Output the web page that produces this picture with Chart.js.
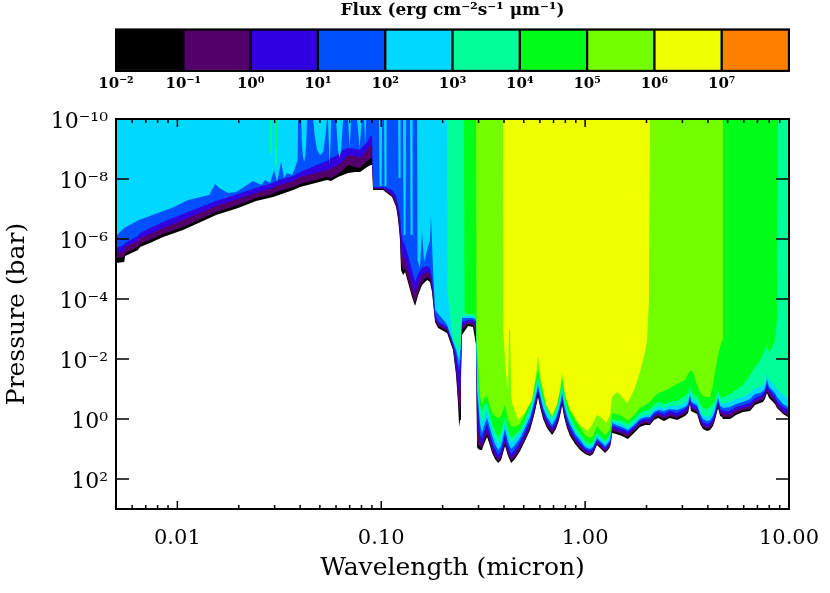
<!DOCTYPE html>
<html>
<head>
<meta charset="utf-8">
<title>Flux contours</title>
<script src="https://cdn.jsdelivr.net/npm/chart.js@4"></script>
<style>
  body { margin: 0; background: #fff; }
  canvas { position: absolute; left: 0; top: 0; }
</style>
</head>
<body>
<canvas id="main" width="830" height="593"></canvas>
<canvas id="bar" width="830" height="100"></canvas>
<script>
// Colour bar
const fluxEdges = [1e-2, 1e-1, 1e0, 1e1, 1e2, 1e3, 1e4, 1e5, 1e6, 1e7, 1e8];
const fluxColors = ["#000000", "#54006b", "#3000e0", "#0050ff", "#00d8ff", "#00ff98", "#00ff18", "#73ff00", "#f0ff00", "#ff8000"];
const fluxTicks = ["10⁻²", "10⁻¹", "10⁰", "10¹", "10²", "10³", "10⁴", "10⁵", "10⁶", "10⁷"];

// Axis ticks
const waveMajor = [0.01, 0.1, 1, 10];
const waveLabels = ["0.01", "0.10", "1.00", "10.00"];
const waveMinor = [0.006, 0.007, 0.008, 0.009, 0.02, 0.03, 0.04, 0.05, 0.06, 0.07, 0.08, 0.09, 0.2, 0.3, 0.4, 0.5, 0.6, 0.7, 0.8, 0.9, 2, 3, 4, 5, 6, 7, 8, 9];
const pressMajor = [1e-10, 1e-8, 1e-6, 1e-4, 1e-2, 1e0, 1e2];
const pressLabels = ["10⁻¹⁰", "10⁻⁸", "10⁻⁶", "10⁻⁴", "10⁻²", "10⁰", "10²"];

// Contour levels: log10 wavelength (micron) and log10 pressure (bar)
const headWave = [-2.301, -2.261, -2.256, -2.193, -2.183, -2.134, -2.070, -1.972, -1.810, -1.702, -1.614, -1.530, -1.516, -1.432, -1.398, -1.266, -1.246, -1.212, -1.187, -1.163, -1.128, -1.104, -1.069, -1.050, -1.045, -1.040, -0.991, -0.947, -0.927, -0.917, -0.908, -0.903, -0.893, -0.883, -0.868, -0.849, -0.834, -0.819, -0.800, -0.775, -0.761, -0.751, -0.736, -0.721, -0.677, -0.648, -0.633, -0.623, -0.618, -0.613, -0.609, -0.604, -0.574, -0.550, -0.535];
const tailWave = [-0.530, -0.525, -0.515, -0.506, -0.496, -0.481, -0.471, -0.456, -0.442, -0.427, -0.412, -0.393, -0.378, -0.363, -0.344, -0.319, -0.295, -0.270, -0.251, -0.241, -0.231, -0.221, -0.206, -0.187, -0.162, -0.143, -0.128, -0.118, -0.113, -0.103, -0.089, -0.074, -0.049, -0.025, 0, 0.024, 0.039, 0.058, 0.078, 0.098, 0.112, 0.122, 0.127, 0.132, 0.152, 0.181, 0.210, 0.240, 0.269, 0.294, 0.318, 0.338, 0.358, 0.387, 0.416, 0.451, 0.490, 0.505, 0.515, 0.519, 0.529, 0.549, 0.564, 0.578, 0.598, 0.613, 0.627, 0.637, 0.652, 0.662, 0.672, 0.676, 0.711, 0.740, 0.774, 0.809, 0.833, 0.858, 0.872, 0.882, 0.892, 0.902, 0.917, 0.931, 0.941, 0.946, 0.971, 0.995, 1];

const blackHead = [-5.20, -5.23, -5.43, -5.63, -5.73, -5.87, -6.07, -6.30, -6.80, -7.03, -7.27, -7.40, -7.43, -7.63, -7.73, -7.97, -7.93, -8.07, -8.13, -8.20, -8.23, -8.23, -8.40, -8.47, -8.47, -7.63, -7.63, -7.40, -7.07, -6.63, -5.97, -4.97, -4.80, -4.90, -4.53, -4.07, -3.77, -4.13, -4.47, -4.63, -4.57, -4.23, -3.23, -3.03, -2.87, -2.30, -1.47, -0.47, 0.27, 0.03, -1.30, -2.80, -3.10, -3.07, -2.47];
const blackTail = [0.93, 1.00, 1.03, 1.03, 0.83, 0.60, 0.80, 1.13, 1.33, 1.47, 1.37, 0.90, 1.23, 1.47, 1.33, 1.07, 0.73, 0.37, -0.10, -0.40, -0.73, -0.40, 0, 0.30, 0.53, 0.33, 0.03, -0.27, -0.47, -0.07, 0.30, 0.57, 0.83, 1.03, 1.17, 1.23, 1.17, 0.87, 1.00, 1.13, 1.03, 0.93, 0.77, 0.47, 0.50, 0.57, 0.67, 0.47, 0.27, 0.20, 0.20, 0.03, -0.03, 0.07, -0.03, 0.03, -0.10, -0.20, -0.53, -0.27, -0.23, -0.17, 0.17, 0.33, 0.40, 0.37, 0.23, 0.03, -0.37, -0.10, -0.07, 0, 0, -0.13, -0.23, -0.27, -0.47, -0.53, -0.57, -0.67, -0.87, -0.70, -0.60, -0.50, -0.37, -0.33, -0.17, -0.07, -0.03];

const purpleHead = [-5.37, -5.40, -5.53, -5.73, -5.83, -5.97, -6.17, -6.40, -6.90, -7.13, -7.37, -7.50, -7.57, -7.73, -7.83, -8.07, -8.03, -8.17, -8.30, -8.47, -8.40, -8.37, -8.60, -8.70, -8.67, -7.67, -7.67, -7.43, -7.13, -6.73, -6.13, -5.23, -4.97, -5.00, -4.63, -4.17, -3.87, -4.23, -4.57, -4.73, -4.67, -4.33, -3.30, -3.10, -2.93, -2.37, -1.57, -0.70, -0.13, -0.47, -1.63, -2.97, -3.17, -3.13, -2.80];
const purpleTail = [0.70, 0.87, 0.93, 0.97, 0.73, 0.50, 0.70, 1.07, 1.27, 1.40, 1.30, 0.83, 1.17, 1.40, 1.27, 1.00, 0.67, 0.30, -0.17, -0.47, -0.83, -0.47, -0.07, 0.23, 0.47, 0.27, -0.03, -0.33, -0.57, -0.13, 0.23, 0.50, 0.77, 0.97, 1.13, 1.20, 1.13, 0.83, 0.97, 1.10, 1.00, 0.90, 0.73, 0.40, 0.43, 0.50, 0.60, 0.40, 0.20, 0.13, 0.17, -0.03, -0.10, 0, -0.10, -0.03, -0.17, -0.27, -0.60, -0.33, -0.30, -0.23, 0.10, 0.27, 0.33, 0.30, 0.17, -0.03, -0.43, -0.17, -0.13, -0.07, -0.07, -0.20, -0.30, -0.33, -0.53, -0.60, -0.63, -0.73, -0.93, -0.80, -0.67, -0.57, -0.40, -0.37, -0.20, -0.10, -0.07];

const indigoHead = [-5.53, -5.60, -5.73, -5.93, -6.03, -6.17, -6.37, -6.63, -7.10, -7.33, -7.53, -7.70, -7.77, -7.93, -8.07, -8.30, -8.37, -8.47, -8.60, -8.80, -8.77, -8.70, -8.97, -9.13, -9.07, -7.70, -7.70, -7.50, -7.27, -6.90, -6.47, -5.70, -5.37, -5.37, -4.97, -4.50, -4.17, -4.50, -4.80, -4.90, -4.83, -4.50, -3.40, -3.17, -3.00, -2.43, -1.80, -1.13, -0.80, -1.13, -2.13, -3.10, -3.23, -3.20, -3.03];
const indigoTail = [0.03, 0.37, 0.77, 0.83, 0.60, 0.33, 0.57, 0.93, 1.17, 1.33, 1.20, 0.70, 1.07, 1.30, 1.17, 0.90, 0.57, 0.20, -0.27, -0.57, -0.93, -0.57, -0.17, 0.13, 0.40, 0.17, -0.13, -0.43, -0.63, -0.23, 0.13, 0.40, 0.70, 0.90, 1.07, 1.13, 1.07, 0.77, 0.90, 1.03, 0.93, 0.83, 0.67, 0.30, 0.37, 0.43, 0.50, 0.33, 0.13, 0.07, 0.10, -0.10, -0.17, -0.07, -0.17, -0.10, -0.23, -0.33, -0.67, -0.40, -0.37, -0.30, 0.03, 0.20, 0.27, 0.23, 0.10, -0.10, -0.50, -0.23, -0.20, -0.17, -0.17, -0.30, -0.37, -0.43, -0.60, -0.67, -0.73, -0.83, -1.03, -0.90, -0.77, -0.67, -0.50, -0.47, -0.27, -0.17, -0.13];

const blueHead = [-5.70, -5.80, -5.87, -6.10, -6.20, -6.37, -6.57, -6.83, -7.27, -7.50, -7.70, -7.87, -7.93, -8.10, -8.23, -8.60, -8.70, -8.80, -8.97, -9.03, -9.00, -8.97, -9.23, -9.47, -9.40, -7.73, -7.73, -7.63, -7.43, -7.10, -6.80, -6.23, -5.90, -5.80, -5.43, -4.97, -4.57, -4.83, -5.03, -5.10, -5.03, -4.70, -3.50, -3.23, -3.07, -2.50, -2.13, -1.70, -1.57, -1.97, -2.63, -3.23, -3.30, -3.30, -3.20];
const blueTail = [-0.63, -0.30, 0.53, 0.67, 0.43, 0.17, 0.40, 0.77, 1.00, 1.20, 1.07, 0.53, 0.93, 1.17, 1.03, 0.77, 0.43, 0.07, -0.40, -0.70, -1.03, -0.67, -0.27, 0.03, 0.30, 0.07, -0.23, -0.53, -0.73, -0.33, 0.03, 0.30, 0.60, 0.80, 1.00, 1.07, 1.00, 0.70, 0.83, 0.97, 0.87, 0.77, 0.60, 0.23, 0.27, 0.33, 0.43, 0.27, 0.07, 0, 0, -0.17, -0.23, -0.17, -0.27, -0.20, -0.33, -0.43, -0.77, -0.53, -0.47, -0.40, -0.07, 0.10, 0.17, 0.13, 0, -0.20, -0.60, -0.33, -0.30, -0.27, -0.27, -0.40, -0.47, -0.53, -0.70, -0.77, -0.83, -0.93, -1.17, -1.00, -0.87, -0.77, -0.60, -0.57, -0.40, -0.30, -0.27];

const cyanHeadWave = [-2.301, -2.261, -2.188, -2.016, -1.947, -1.844, -1.815, -1.795, -1.751, -1.712, -1.673, -1.629, -1.589, -1.570, -1.545, -1.526, -1.511, -1.491, -1.477, -1.462, -1.437, -1.423, -1.410, -1.408, -1.393, -1.390, -1.385, -1.378, -1.372, -1.367, -1.364, -1.334, -1.327, -1.315, -1.300, -1.285, -1.273, -1.266, -1.261, -1.258, -1.253, -1.248, -1.246, -1.222, -1.217, -1.212, -1.204, -1.197, -1.192, -1.187, -1.163, -1.160, -1.155, -1.150, -1.148, -1.119, -1.114, -1.106, -1.099, -1.094, -1.084, -1.079, -1.074, -1.011, -1.008, -0.998, -0.996, -0.986, -0.984, -0.976, -0.974, -0.917, -0.915, -0.908, -0.905, -0.893, -0.890, -0.881, -0.878, -0.859, -0.856, -0.849, -0.846, -0.824, -0.822, -0.810, -0.800, -0.790, -0.775, -0.761, -0.756, -0.746, -0.736, -0.687, -0.677, -0.648, -0.633, -0.623, -0.618, -0.613, -0.609, -0.604, -0.574, -0.550, -0.535];
const cyanHead = [-6.10, -6.37, -6.63, -7.07, -7.30, -7.47, -7.83, -7.70, -7.53, -7.57, -7.73, -7.93, -7.80, -7.97, -7.87, -8.30, -7.90, -8.57, -8.03, -8.20, -8.13, -8.37, -8.63, -10, -10, -9.30, -8.80, -8.57, -8.80, -9.30, -10, -10, -9.47, -8.97, -8.80, -8.90, -9.47, -10, -10, -9.30, -8.47, -9.30, -10, -10, -9.47, -8.97, -8.70, -8.97, -9.47, -10, -10, -9.63, -9.03, -9.63, -10, -10, -9.63, -9.03, -9.63, -10, -10, -9.13, -10, -10, -7.77, -7.77, -10, -10, -7.77, -7.77, -10, -10, -8.03, -8.03, -10, -10, -6.13, -6.13, -10, -10, -6.13, -6.13, -10, -10, -5.30, -5.03, -6.23, -5.23, -5.63, -5.97, -6.80, -4.97, -3.63, -3.23, -3.13, -2.57, -2.30, -2.03, -1.77, -2.30, -2.63, -3.37, -3.37, -3.37, -3.30];
const cyanTail = [-0.97, -0.63, 0.20, 0.47, 0.23, -0.03, 0.20, 0.57, 0.83, 1.03, 0.90, 0.33, 0.77, 1.00, 0.87, 0.63, 0.30, -0.07, -0.53, -0.80, -1.13, -0.80, -0.37, -0.07, 0.20, -0.03, -0.33, -0.63, -0.87, -0.47, -0.10, 0.17, 0.50, 0.70, 0.93, 1.00, 0.93, 0.63, 0.77, 0.90, 0.80, 0.70, 0.50, 0.13, 0.20, 0.27, 0.37, 0.20, 0, -0.07, -0.07, -0.23, -0.30, -0.27, -0.33, -0.30, -0.40, -0.50, -0.83, -0.60, -0.53, -0.47, -0.17, 0, 0.07, 0.03, -0.10, -0.30, -0.70, -0.43, -0.40, -0.37, -0.40, -0.50, -0.57, -0.67, -0.83, -0.87, -0.93, -1.00, -1.33, -1.07, -0.97, -0.87, -0.73, -0.70, -0.50, -0.40, -0.37];

const springHeadWave = [-2.301, -1.546, -1.545, -1.540, -1.539, -1.522, -1.521, -1.513, -1.512, -0.677, -0.675, -0.662, -0.653, -0.648, -0.623, -0.618, -0.613, -0.609, -0.604, -0.574, -0.550, -0.535];
const springHead = [-10, -10, -8.80, -8.80, -10, -10, -8.47, -8.47, -10, -10, -4.30, -3.47, -2.97, -2.70, -2.23, -1.97, -2.47, -2.97, -3.43, -3.43, -3.43, -3.37];
const springTail = [-1.47, -0.97, -0.13, 0.17, -0.07, -0.30, -0.03, 0.37, 0.63, 0.83, 0.67, 0.13, 0.53, 0.80, 0.67, 0.47, 0.17, -0.20, -0.67, -0.97, -1.30, -0.93, -0.53, -0.20, 0.07, -0.17, -0.47, -0.80, -1.03, -0.63, -0.23, 0.03, 0.40, 0.60, 0.83, 0.90, 0.83, 0.53, 0.67, 0.80, 0.70, 0.60, 0.40, 0.07, 0.10, 0.17, 0.30, 0.13, -0.07, -0.13, -0.17, -0.33, -0.40, -0.37, -0.43, -0.43, -0.53, -0.63, -0.97, -0.73, -0.67, -0.60, -0.30, -0.13, -0.07, -0.10, -0.27, -0.43, -0.83, -0.57, -0.53, -0.50, -0.57, -0.67, -0.73, -0.87, -1.03, -1.07, -1.13, -1.20, -1.53, -1.30, -1.20, -1.10, -1.00, -0.97, -0.80, -0.70, -0.67];

const greenHeadWave = [-2.301, -1.519, -1.518, -1.515, -1.514, -0.594, -0.591, -0.584, -0.550, -0.535];
const greenHead = [-10, -10, -9.00, -9.00, -10, -10, -3.57, -3.50, -3.50, -3.43];
const greenTail = [-1.80, -1.30, -0.47, -0.23, -0.47, -0.53, -0.27, 0.17, 0.40, 0.60, 0.43, -0.07, 0.37, 0.63, 0.50, 0.37, 0.03, -0.37, -0.83, -1.13, -1.43, -1.07, -0.67, -0.33, -0.07, -0.30, -0.60, -0.93, -1.17, -0.77, -0.37, -0.10, 0.27, 0.50, 0.73, 0.83, 0.77, 0.47, 0.60, 0.73, 0.63, 0.53, 0.30, 0, 0.03, 0.07, 0.17, 0, -0.20, -0.27, -0.33, -0.47, -0.57, -0.50, -0.57, -0.60, -0.77, -0.87, -1.10, -0.93, -0.83, -0.77, -0.53, -0.37, -0.33, -0.40, -0.50, -0.57, -0.97, -0.73, -0.70, -0.70, -0.83, -0.97, -1.13, -1.47, -1.73, -1.93, -2.17, -2.30, -2.47, -2.23, -2.37, -2.63, -3.30, -10, -10, -10, -10];

const limeHeadWave = [-2.301, -0.535, -0.533];
const limeHead = [-10, -10, -2.97];
const limeTail = [-2.30, -1.80, -0.80, -0.47, -0.70, -0.77, -0.53, -0.23, -0.10, -0.03, -0.10, -0.47, 0.03, 0.23, 0.27, 0.17, -0.17, -0.57, -1.03, -1.33, -1.63, -1.27, -0.87, -0.53, -0.27, -0.50, -0.80, -1.13, -1.37, -0.97, -0.57, -0.30, 0.03, 0.30, 0.53, 0.63, 0.57, 0.23, 0.40, 0.53, 0.43, 0.33, 0.10, -0.20, -0.17, -0.10, 0.07, -0.13, -0.37, -0.47, -0.57, -0.73, -0.87, -0.93, -1.03, -1.17, -1.30, -1.50, -1.60, -1.63, -1.57, -1.13, -0.90, -0.77, -0.73, -0.73, -1.13, -1.57, -2.13, -2.40, -2.63, -10, -10, -10, -10, -10, -10, -10, -10, -10, -10, -10, -10, -10, -10, -10, -10, -10, -10];

const yellowWave = [-2.301, -0.403, -0.401, -0.393, -0.383, -0.378, -0.373, -0.368, -0.363, -0.358, -0.329, -0.295, -0.260, -0.241, -0.231, -0.216, -0.192, -0.162, -0.138, -0.123, -0.113, -0.098, -0.074, -0.025, 0.014, 0.034, 0.058, 0.083, 0.103, 0.122, 0.132, 0.157, 0.181, 0.206, 0.225, 0.240, 0.269, 0.294, 0.304, 0.313, 0.318, 1];
const yellowLevel = [-10, -10, -2.97, -1.97, -1.13, -0.97, -2.97, -2.97, -0.90, -0.53, 0.03, -0.20, -0.63, -1.47, -2.10, -1.30, -0.47, -0.10, -0.47, -0.97, -1.53, -0.80, -0.30, 0.20, 0.40, 0.20, -0.13, -0.03, 0.13, -0.13, -0.73, -0.90, -0.73, -0.53, -0.77, -0.97, -1.57, -2.23, -2.63, -3.97, -10, -10];

const toPoints = (logWave, logPress) =>
  logWave.map((w, i) => ({ x: 10 ** w, y: 10 ** logPress[i] }));

// Deepest level last, so it is painted first
const levels = [
  [fluxColors[8], yellowWave, yellowLevel],
  [fluxColors[7], limeHeadWave.concat(tailWave), limeHead.concat(limeTail)],
  [fluxColors[6], greenHeadWave.concat(tailWave), greenHead.concat(greenTail)],
  [fluxColors[5], springHeadWave.concat(tailWave), springHead.concat(springTail)],
  [fluxColors[4], cyanHeadWave.concat(tailWave), cyanHead.concat(cyanTail)],
  [fluxColors[3], headWave.concat(tailWave), blueHead.concat(blueTail)],
  [fluxColors[2], headWave.concat(tailWave), indigoHead.concat(indigoTail)],
  [fluxColors[1], headWave.concat(tailWave), purpleHead.concat(purpleTail)],
  [fluxColors[0], headWave.concat(tailWave), blackHead.concat(blackTail)],
];

const serif = "'DejaVu Serif', serif";

const noPadding = (scale) => {
  scale.paddingLeft = 0;
  scale.paddingRight = 0;
  scale.paddingTop = 0;
  scale.paddingBottom = 0;
};

// Inward ticks on all four sides plus the box
const frame = {
  id: "frame",
  afterDatasetsDraw(chart) {
    const { ctx, chartArea: a, scales } = chart;
    ctx.save();
    ctx.strokeStyle = "#000";
    ctx.lineWidth = 1.5;
    ctx.beginPath();
    const xTick = (v, len) => {
      const px = scales.x.getPixelForValue(v);
      ctx.moveTo(px, a.bottom); ctx.lineTo(px, a.bottom - len);
      ctx.moveTo(px, a.top); ctx.lineTo(px, a.top + len);
    };
    waveMajor.forEach((v) => xTick(v, 8));
    waveMinor.forEach((v) => xTick(v, 4));
    pressMajor.forEach((v) => {
      const py = scales.y.getPixelForValue(v);
      ctx.moveTo(a.left, py); ctx.lineTo(a.left + 13, py);
      ctx.moveTo(a.right, py); ctx.lineTo(a.right - 13, py);
    });
    ctx.stroke();
    ctx.lineWidth = 2;
    ctx.strokeRect(a.left, a.top, a.right - a.left, a.bottom - a.top);
    ctx.restore();
  },
};

const barFrame = {
  id: "barFrame",
  afterDatasetsDraw(chart) {
    const { ctx, chartArea: a } = chart;
    ctx.save();
    ctx.strokeStyle = "#000";
    ctx.lineWidth = 2;
    ctx.strokeRect(a.left, a.top, a.right - a.left, a.bottom - a.top);
    ctx.restore();
  },
};

new Chart(document.getElementById("main"), {
  type: "line",
  data: {
    datasets: levels.map(([color, wave, press]) => ({
      data: toPoints(wave, press),
      backgroundColor: color,
      borderWidth: 0,
      pointRadius: 0,
      tension: 0,
      fill: "end",
    })),
  },
  options: {
    responsive: false,
    animation: false,
    events: [],
    layout: { padding: { top: 119, right: 41 } },
    plugins: { legend: { display: false }, tooltip: { enabled: false } },
    scales: {
      x: {
        type: "logarithmic",
        min: 0.005,
        max: 10,
        grid: { display: false, drawTicks: false },
        border: { display: false },
        afterBuildTicks: (scale) => { scale.ticks = waveMajor.map((value) => ({ value })); },
        afterFit: (scale) => { scale.height = 84; noPadding(scale); },
        ticks: {
          autoSkip: false,
          maxRotation: 0,
          padding: 17,
          color: "#000",
          font: { family: serif, size: 21 },
          callback: (value, i) => waveLabels[i],
        },
        title: {
          display: true,
          text: "Wavelength (micron)",
          color: "#000",
          padding: { top: 0, bottom: 10 },
          font: { family: serif, size: 25 },
        },
      },
      y: {
        type: "logarithmic",
        reverse: true,
        min: 1e-10,
        max: 1e3,
        grid: { display: false, drawTicks: false },
        border: { display: false },
        afterBuildTicks: (scale) => { scale.ticks = pressMajor.map((value) => ({ value })); },
        afterFit: (scale) => { scale.width = 116; noPadding(scale); },
        ticks: {
          autoSkip: false,
          padding: 8,
          labelOffset: 3,
          color: "#000",
          font: { family: serif, size: 22 },
          callback: (value, i) => pressLabels[i],
        },
        title: {
          display: true,
          text: "Pressure (bar)",
          color: "#000",
          padding: { top: 2, bottom: 0 },
          font: { family: serif, size: 25 },
        },
      },
    },
  },
  plugins: [frame],
});

new Chart(document.getElementById("bar"), {
  type: "bar",
  data: {
    labels: ["flux"],
    datasets: fluxColors.map((color, i) => ({
      data: [[fluxEdges[i], fluxEdges[i + 1]]],
      backgroundColor: color,
      borderColor: "#000",
      borderWidth: 1.5,
      borderSkipped: false,
      grouped: false,
      barPercentage: 1,
      categoryPercentage: 1,
    })),
  },
  options: {
    indexAxis: "y",
    responsive: false,
    animation: false,
    events: [],
    layout: { padding: { left: 116, right: 41 } },
    plugins: {
      legend: { display: false },
      tooltip: { enabled: false },
      title: {
        display: true,
        text: "Flux (erg cm⁻²s⁻¹ μm⁻¹)",
        color: "#000",
        padding: { top: 0, bottom: 9 },
        font: { family: serif, size: 17, weight: "bold" },
      },
    },
    scales: {
      x: {
        type: "logarithmic",
        min: 1e-2,
        max: 1e8,
        grid: { display: false, drawTicks: false },
        border: { display: false },
        afterBuildTicks: (scale) => { scale.ticks = fluxEdges.slice(0, 10).map((value) => ({ value })); },
        afterFit: (scale) => { scale.height = 29; noPadding(scale); },
        ticks: {
          autoSkip: false,
          maxRotation: 0,
          padding: 4,
          color: "#000",
          font: { family: serif, size: 15, weight: "bold" },
          callback: (value, i) => fluxTicks[i],
        },
      },
      y: { display: false },
    },
  },
  plugins: [barFrame],
});
</script>
</body>
</html>
